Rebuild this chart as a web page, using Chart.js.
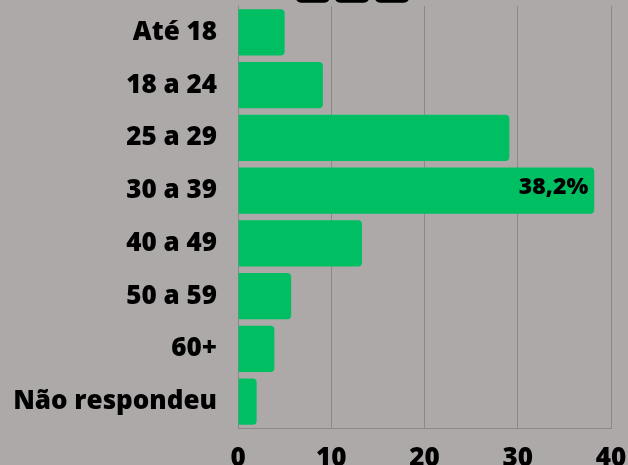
<!DOCTYPE html>
<html>
<head>
<meta charset="utf-8">
<script src="https://cdn.jsdelivr.net/npm/chart.js@4"></script>
<style>
  html, body { margin: 0; padding: 0; background: #ADA9A8; }
  #wrap { width: 628px; height: 465px; position: relative; }
</style>
</head>
<body>
<div id="wrap"><canvas id="ageChart"></canvas></div>
<script>
// Faixa etária (percent of answers)
const categories = ['Até 18', '18 a 24', '25 a 29', '30 a 39', '40 a 49', '50 a 59', '60+', 'Não respondeu'];
const values = [5.0, 9.1, 29.1, 38.2, 13.3, 5.7, 3.9, 2.0];
const valueLabels = ['', '', '', '38,2%', '', '', '', ''];
const xTicks = [0, 10, 20, 30, 40];

const FONT = "'Open Sans', 'Noto Sans', sans-serif";

// three dark rounded tabs cut off at the top edge
const topTabs = {
    id: 'topTabs',
    afterDraw(chart) {
        const ctx = chart.ctx;
        ctx.save();
        ctx.fillStyle = '#000';
        [[296, 33.5], [335, 34], [375, 34]].forEach(([x, w]) => {
            ctx.beginPath();
            ctx.roundRect(x, -20, w, 22.8, 5);
            ctx.fill();
        });
        ctx.restore();
    }
};

// percent label inside the end of a bar
const barLabels = {
    id: 'barLabels',
    afterDatasetsDraw(chart) {
        const ctx = chart.ctx;
        const meta = chart.getDatasetMeta(0);
        ctx.save();
        ctx.font = "800 23px " + FONT;
        ctx.fillStyle = '#000';
        ctx.textAlign = 'right';
        ctx.textBaseline = 'middle';
        meta.data.forEach((bar, i) => {
            if (!valueLabels[i]) return;
            ctx.fillText(valueLabels[i], bar.x - 6, bar.y - 3);
        });
        ctx.restore();
    }
};

new Chart(document.getElementById('ageChart'), {
    type: 'bar',
    data: {
        labels: categories,
        datasets: [{
            data: values,
            backgroundColor: '#00BF63',
            borderRadius: 4,
            borderSkipped: 'start',
            barPercentage: 0.88,
            categoryPercentage: 1
        }]
    },
    options: {
        indexAxis: 'y',
        responsive: true,
        maintainAspectRatio: false,
        animation: false,
        layout: { padding: { top: 6, right: 17, left: 0, bottom: 0 } },
        plugins: {
            legend: { display: false },
            tooltip: { enabled: false }
        },
        scales: {
            x: {
                min: 0,
                max: 40,
                afterBuildTicks: (scale) => { scale.ticks = xTicks.map(v => ({ value: v })); },
                afterFit: (scale) => {
                    scale.height = 37;
                    scale.paddingLeft = 0;
                    scale.paddingRight = 0;
                },
                grid: { color: '#8C8888', lineWidth: 1, drawTicks: false },
                border: { color: '#8C8888' },
                ticks: {
                    color: '#000',
                    padding: 15,
                    font: { family: FONT, size: 26, weight: 800 }
                }
            },
            y: {
                afterFit: (scale) => {
                    scale.width = 238;
                    scale.paddingTop = 0;
                    scale.paddingBottom = 0;
                },
                grid: { display: false, drawTicks: false },
                border: { display: false },
                ticks: {
                    color: '#000',
                    padding: 21,
                    font: { family: FONT, size: 26, weight: 800 }
                }
            }
        }
    },
    plugins: [topTabs, barLabels]
});
</script>
</body>
</html>
